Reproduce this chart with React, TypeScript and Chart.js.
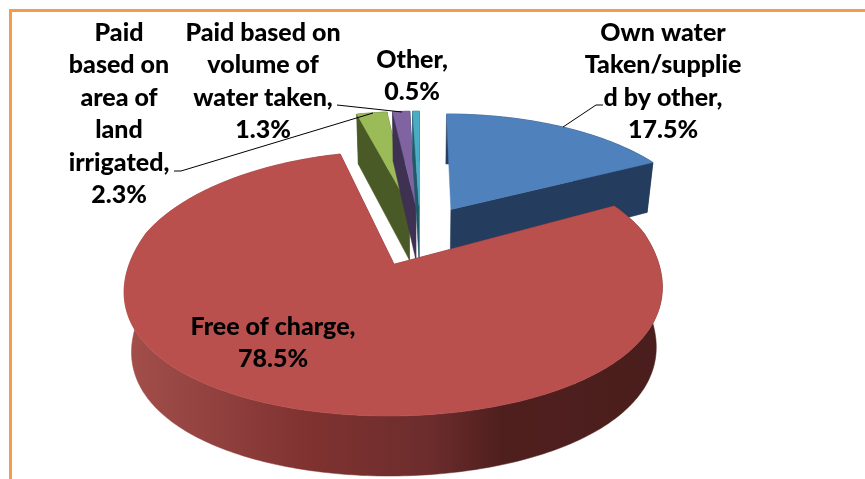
import React, { useEffect, useRef } from "react";
import { Chart, registerables } from "chart.js";

Chart.register(...registerables);

const categories = ["Own water Taken/supplied by other", "Free of charge", "Paid based on area of land irrigated", "Paid based on volume of water taken", "Other"];
const values = [17.5, 78.5, 2.3, 1.3, 0.5];
const topColors = ["#4F81BD", "#BA504E", "#9BBB59", "#8064A2", "#4BACC6"];
const sideColors = ["#243C5E", "#6E2C2A", "#4A5A26", "#3F3151", "#215968"];
const drawOrder = [0, 2, 3, 4, 1];
const labelLines = [
  ["Own water", "Taken/supplie", "d by other,", "17.5%"],
  ["Free of charge,", "78.5%"],
  ["Paid", "based on", "area of", "land", "irrigated,", "2.3%"],
  ["Paid based on", "volume of", "water taken,", "1.3%"],
  ["Other,", "0.5%"],
];
const labelAnchors = [
  { x: 663, y: 33 },
  { x: 273, y: 327 },
  { x: 119, y: 33 },
  { x: 263, y: 33 },
  { x: 412, y: 60 },
];
const leaders = [
  [[563, 127], [596, 105], [603, 105]],
  [],
  [[174, 171], [181, 171], [373, 113]],
  [[337, 105], [402, 112]],
  [],
];

const CX = 420, CY = 233, A = 255, B = 119, K = 0.17, EXPLODE = 0.24, BULGE = 7;

function project(u: number, v: number, low: boolean) {
  const s = 1 / (1 + K * v);
  const x = CX + A * u * s;
  const n = v < 0 ? Math.min(-v, 1.22) : 0;
  const y = CY - B * v * s + (BULGE * n * (1.22 - n)) / 0.37;
  if (!low) return { x, y };
  const depth = 50 + 10 * Math.min(1, Math.max(0, (s - 0.9) / 0.15));
  return { x: CX + (x - CX) * 0.975, y: y + depth };
}

const threeD = {
  id: "threeD",
  beforeDatasetsDraw(chart: any) {
    const ctx = chart.ctx as CanvasRenderingContext2D;
    const arcs = chart.getDatasetMeta(0).data as any[];
    drawOrder.forEach((i) => {
      const a0 = arcs[i].startAngle + Math.PI / 2;
      const a1 = arcs[i].endAngle + Math.PI / 2;
      const mid = (a0 + a1) / 2;
      const ox = EXPLODE * Math.sin(mid);
      const oy = EXPLODE * Math.cos(mid);
      const steps = Math.max(6, Math.ceil((a1 - a0) * 60));
      const rim: [number, number][] = [];
      for (let k = 0; k <= steps; k++) {
        const t = a0 + ((a1 - a0) * k) / steps;
        rim.push([ox + Math.sin(t), oy + Math.cos(t)]);
      }
      const poly = (pts: { x: number; y: number }[], fill: any) => {
        ctx.beginPath();
        pts.forEach((p, n) => (n ? ctx.lineTo(p.x, p.y) : ctx.moveTo(p.x, p.y)));
        ctx.closePath();
        ctx.fillStyle = fill;
        ctx.fill();
        ctx.strokeStyle = fill;
        ctx.lineWidth = 0.5;
        ctx.stroke();
      };
      const apexT = project(ox, oy, false);
      const apexB = project(ox, oy, true);
      const first = rim[0];
      const last = rim[rim.length - 1];
      if (i !== 0) poly([apexT, project(first[0], first[1], false), project(first[0], first[1], true), apexB], sideColors[i]);
      poly([apexT, project(last[0], last[1], false), project(last[0], last[1], true), apexB], sideColors[i]);
      let rimFill: any = sideColors[i];
      if (i === 1) {
        const g = ctx.createLinearGradient(126, 0, 663, 0);
        g.addColorStop(0, "#A34F4C");
        g.addColorStop(0.34, "#7F3230");
        g.addColorStop(0.56, "#6D2D2D");
        g.addColorStop(0.7, "#4F1F1E");
        g.addColorStop(1, "#4A1E1C");
        rimFill = g;
      }
      poly(
        [...rim.map((p) => project(p[0], p[1], false)), ...rim.slice().reverse().map((p) => project(p[0], p[1], true))],
        rimFill
      );
      poly([apexT, ...rim.map((p) => project(p[0], p[1], false))], topColors[i]);
    });

    ctx.strokeStyle = "#000000";
    ctx.lineWidth = 1;
    leaders.forEach((line) => {
      if (!line.length) return;
      ctx.beginPath();
      line.forEach((p, n) => (n ? ctx.lineTo(p[0], p[1]) : ctx.moveTo(p[0], p[1])));
      ctx.stroke();
    });

    ctx.fillStyle = "#000000";
    ctx.font = '900 25px Lato, "Open Sans", sans-serif';
    ctx.textAlign = "center";
    ctx.textBaseline = "middle";
    labelLines.forEach((lines, i) => {
      lines.forEach((t, n) => ctx.fillText(t, labelAnchors[i].x, labelAnchors[i].y + n * 32.4));
    });
    return false;
  },
};

export default function App() {
  const ref = useRef<HTMLCanvasElement>(null);
  useEffect(() => {
    const chart = new Chart(ref.current as HTMLCanvasElement, {
      type: "pie",
      data: {
        labels: categories,
        datasets: [{ data: values, backgroundColor: topColors }],
      },
      options: {
        responsive: false,
        animation: false,
        plugins: { legend: { display: false }, tooltip: { enabled: false } },
      },
      plugins: [threeD],
    } as any);
    return () => chart.destroy();
  }, []);
  return (
    <div style={{ position: "fixed", left: 0, top: 0, width: 865, height: 479, background: "#fff", overflow: "hidden" }}>
      <canvas ref={ref} width={865} height={479} style={{ position: "absolute", left: 0, top: 0 }} />
      <div style={{ position: "absolute", left: 9, top: 9, width: 870, height: 480, borderLeft: "3px solid #F79A4E", borderTop: "3px solid #F79A4E" }} />
    </div>
  );
}
